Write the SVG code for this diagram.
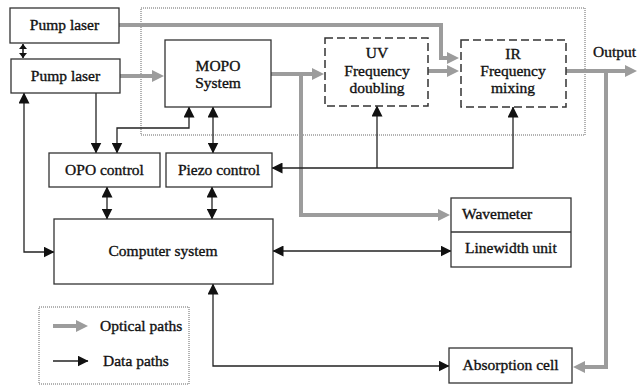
<svg xmlns="http://www.w3.org/2000/svg" width="638" height="385" viewBox="0 0 638 385">
<style>
.box{fill:#fff;stroke:#333;stroke-width:1.3}
.dash{fill:none;stroke:#333;stroke-width:1.5;stroke-dasharray:8,4}
.dot{fill:none;stroke:#666;stroke-width:1;stroke-dasharray:1,1}
.t{font-family:"Liberation Serif","Times New Roman",serif;font-size:15.5px;fill:#111;stroke:#111;stroke-width:0.35;text-anchor:middle}
.l{text-anchor:start}
.op{fill:none;stroke:#9c9c9c;stroke-width:4;marker-end:url(#ga)}
.dp{fill:none;stroke:#222;stroke-width:1.3;marker-end:url(#ba)}
.dd{fill:none;stroke:#222;stroke-width:1.3;marker-end:url(#ba);marker-start:url(#ba)}
.ds{fill:none;stroke:#222;stroke-width:1.6;marker-end:url(#bs);marker-start:url(#bs)}
</style>
<defs>
<marker id="ga" markerUnits="userSpaceOnUse" markerWidth="12" markerHeight="12" viewBox="0 0 12 12" refX="2" refY="6" orient="auto"><path d="M0,0 L12,6 L0,12 z" fill="#9c9c9c"/></marker>
<marker id="ba" markerUnits="userSpaceOnUse" markerWidth="11" markerHeight="11" viewBox="0 0 11 11" refX="10.5" refY="5.5" orient="auto-start-reverse"><path d="M0,0 L11,5.5 L0,11 z" fill="#111"/></marker>
<marker id="bs" markerUnits="userSpaceOnUse" markerWidth="5" markerHeight="8" viewBox="0 0 5 8" refX="5" refY="4" orient="auto-start-reverse"><path d="M0,0 L5,4 L0,8 z" fill="#111"/></marker>
</defs>
<rect width="638" height="385" fill="#fff"/>
<rect class="dot" x="141" y="8" width="444" height="127"/>
<g id="connectors">
<path class="op" d="M119,25 H441 V58 H449"/>
<path class="op" d="M120,76 H154"/>
<path class="op" d="M271,74 H314"/>
<path class="op" d="M301,74 V215 H440"/>
<path class="op" d="M428,71 H449"/>
<path class="op" d="M566,71 H627"/>
<path class="op" d="M606,71 V367 H583"/>
<path class="ds" d="M23,44 V58"/>
<path class="dp" d="M96,93 V153"/>
<path class="dd" d="M117,153 V128 H189 V107"/>
<path class="dd" d="M213,107 V153"/>
<path class="dd" d="M24,93 V252 H54"/>
<path class="dd" d="M107,187 V219"/>
<path class="dd" d="M212,187 V219"/>
<path class="dd" d="M513,107 V168 H272"/>
<path class="dp" d="M377,168 V106"/>
<path class="dd" d="M273,251 H451"/>
<path class="dd" d="M213,284 V366 H449"/>
</g>
<g id="pump1"><rect class="box" x="10" y="8" width="109" height="35"/><text class="t" x="64.5" y="30">Pump laser</text></g>
<g id="pump2"><rect class="box" x="11" y="59" width="109" height="34"/><text class="t" x="65.5" y="81">Pump laser</text></g>
<g id="mopo"><rect class="box" x="165" y="40" width="106" height="67"/><text class="t" x="218" y="71">MOPO</text><text class="t" x="218" y="88">System</text></g>
<g id="uv"><rect class="dash" x="325" y="38" width="103" height="68"/><text class="t" x="377" y="58">UV</text><text class="t" x="377" y="76">Frequency</text><text class="t" x="377" y="93">doubling</text></g>
<g id="ir"><rect class="dash" x="461" y="40" width="105" height="67"/><text class="t" x="513" y="59">IR</text><text class="t" x="513" y="76">Frequency</text><text class="t" x="513" y="93">mixing</text></g>
<g id="output"><text class="t l" x="593" y="57">Output</text></g>
<g id="opo"><rect class="box" x="49" y="153" width="111" height="34"/><text class="t" x="104.5" y="175">OPO control</text></g>
<g id="piezo"><rect class="box" x="166" y="153" width="106" height="34"/><text class="t" x="219" y="175">Piezo control</text></g>
<g id="computer"><rect class="box" x="54" y="219" width="219" height="65"/><text class="t" x="163" y="256">Computer system</text></g>
<g id="wavemeter"><rect class="box" x="451" y="198" width="120" height="69"/><line x1="451" y1="232" x2="571" y2="232" stroke="#333" stroke-width="1.3"/><text class="t l" x="462" y="219">Wavemeter</text><text class="t l" x="465" y="253">Linewidth unit</text></g>
<g id="absorption"><rect class="box" x="449" y="348" width="123" height="35"/><text class="t" x="510.5" y="370">Absorption cell</text></g>
<g id="legend">
<rect class="dot" x="39" y="307" width="150" height="77"/>
<path class="op" d="M53,326 H78"/>
<path class="dp" d="M53,361 H88"/>
<text class="t l" x="100" y="331">Optical paths</text>
<text class="t l" x="103" y="366">Data paths</text>
</g>
</svg>
